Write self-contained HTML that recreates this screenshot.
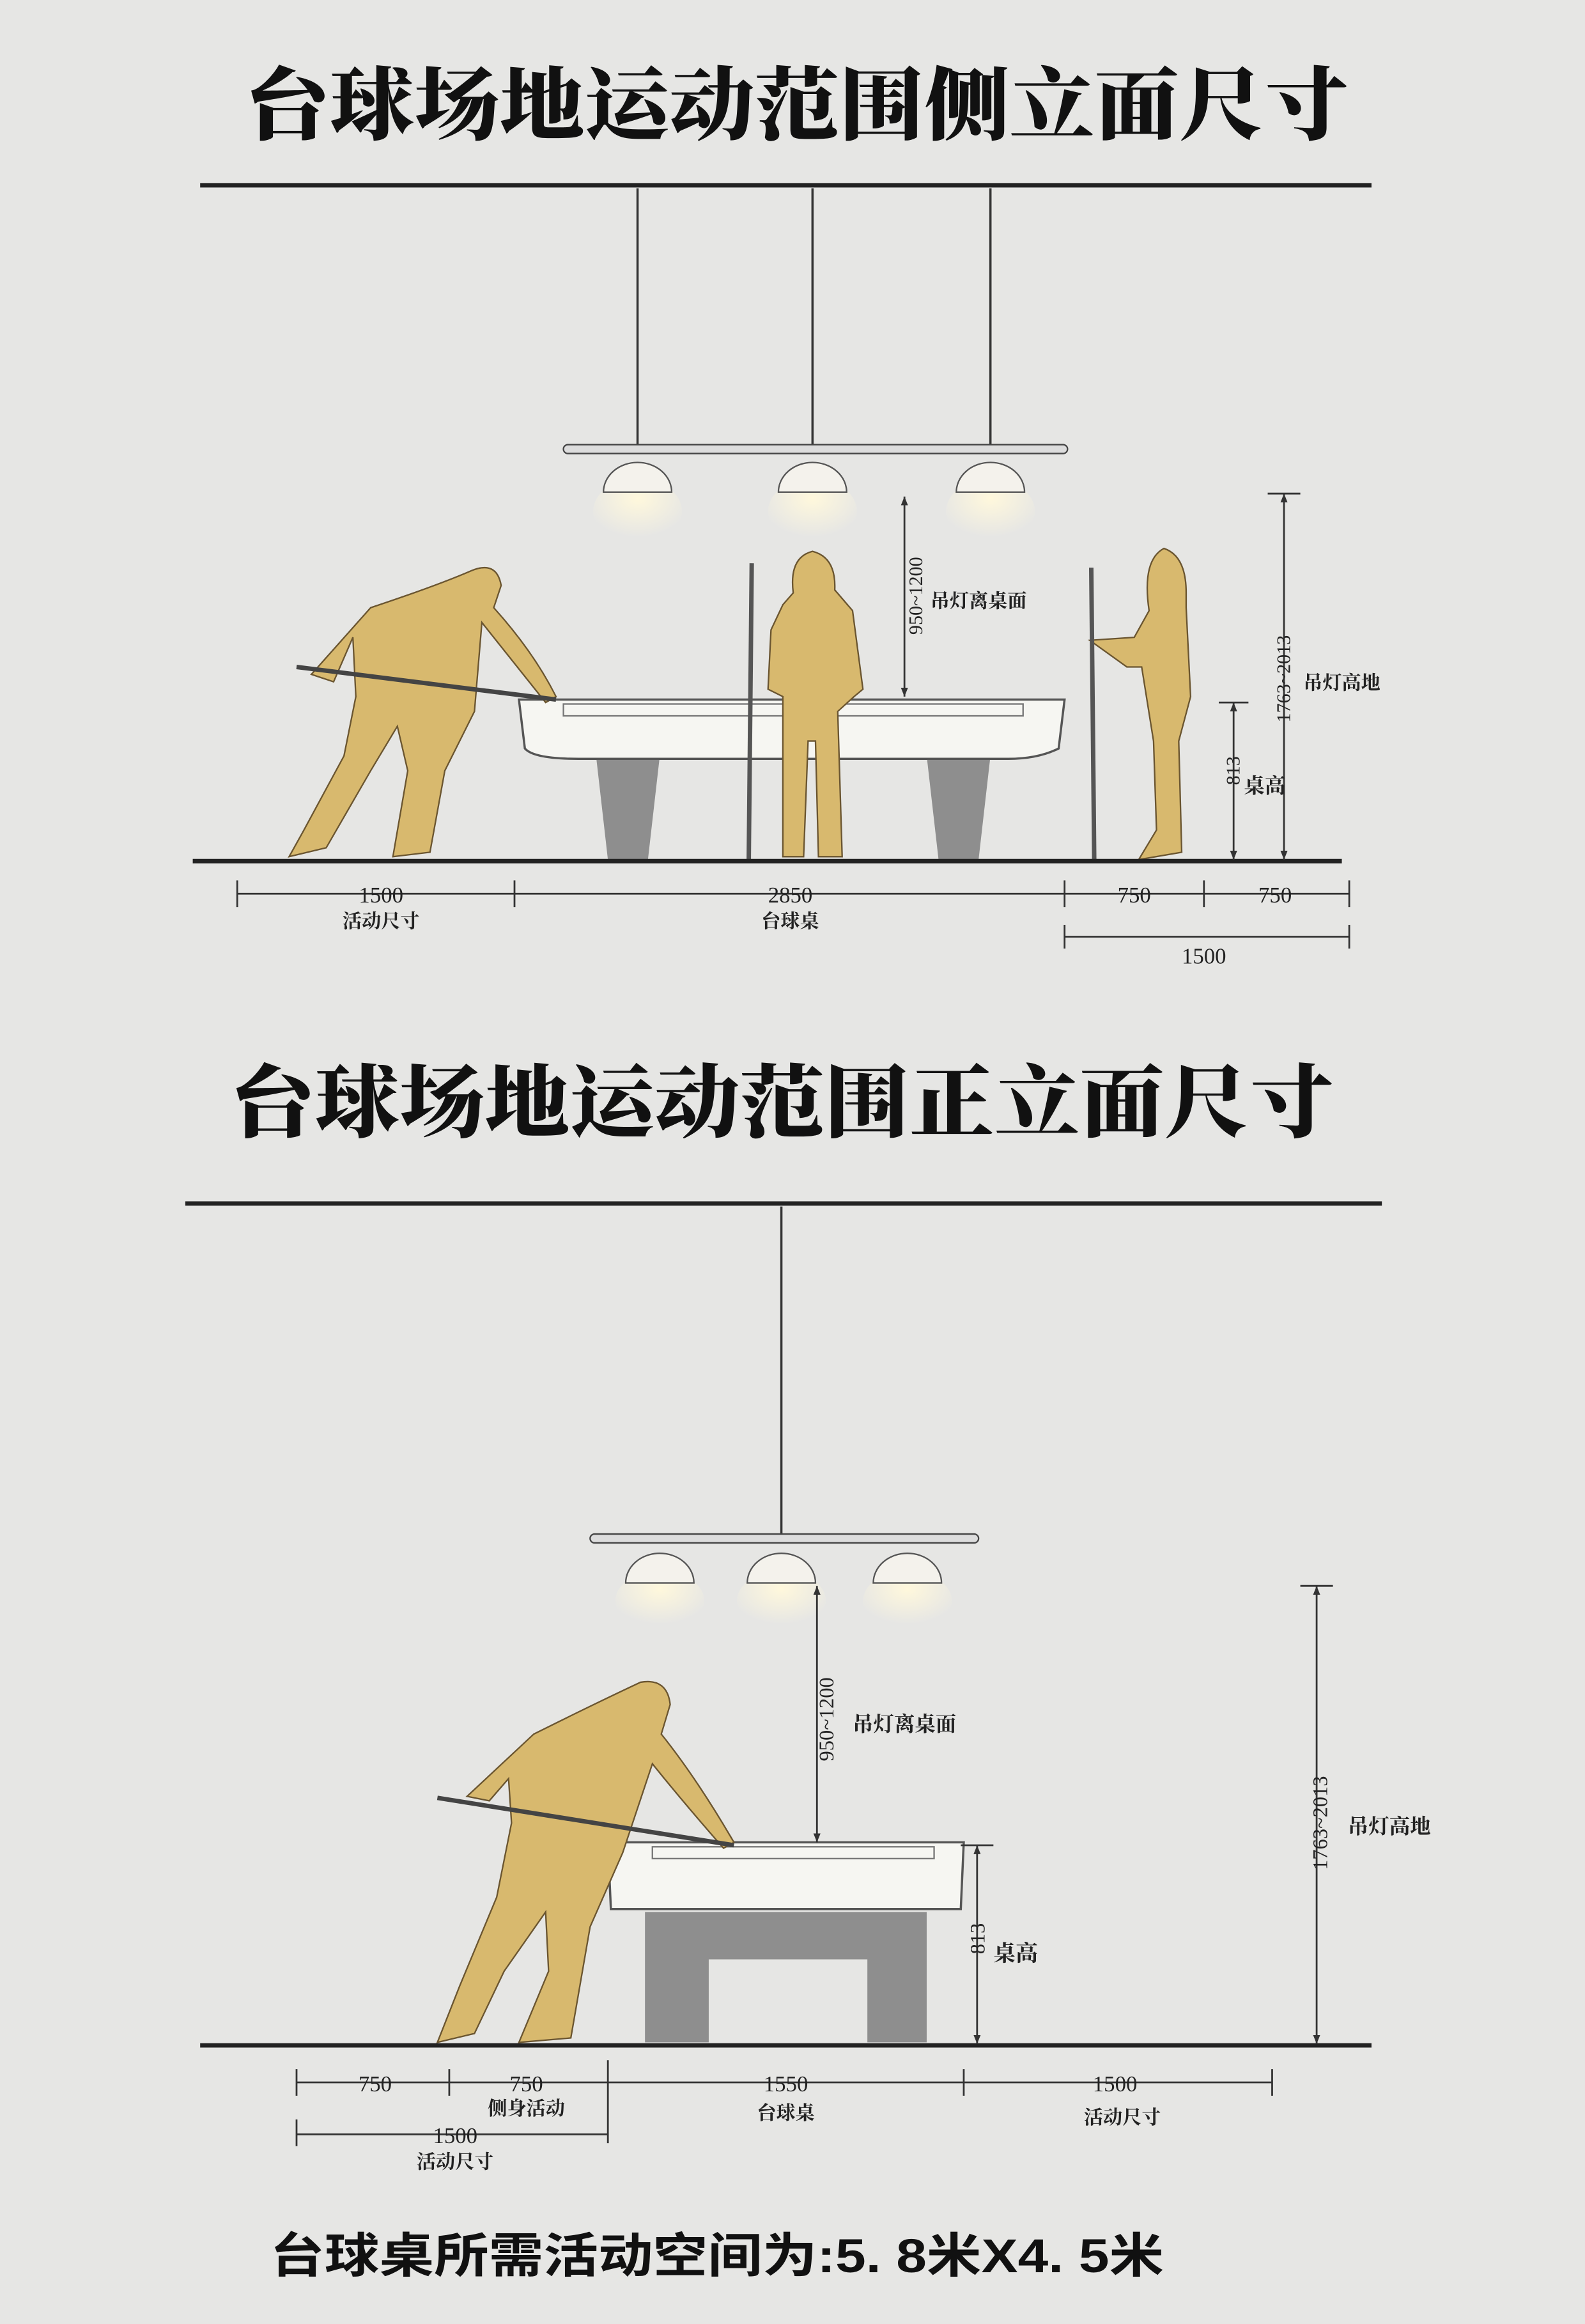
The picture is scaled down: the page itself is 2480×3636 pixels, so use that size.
<!DOCTYPE html>
<html><head><meta charset="utf-8"><style>
html,body{margin:0;padding:0;background:#e6e6e4}
svg{display:block}
.t{font-family:"Liberation Serif","Noto Serif CJK SC","Noto Sans CJK SC",serif;fill:#222}
.h{font-family:"Liberation Serif","Noto Serif CJK SC",serif;font-weight:900;fill:#111}
.b{font-family:"Liberation Sans","Noto Sans CJK SC",sans-serif;font-weight:bold;fill:#111}
</style></head><body>
<svg width="2480" height="3636" viewBox="0 0 1069 1568" preserveAspectRatio="none" xmlns="http://www.w3.org/2000/svg">
<defs>
<radialGradient id="g" cx="50%" cy="30%" r="60%"><stop offset="0" stop-color="#fff8dc" stop-opacity="1"/><stop offset="1" stop-color="#fff8dc" stop-opacity="0"/></radialGradient>
<marker id="a" viewBox="0 0 10 10" refX="10" refY="5" markerWidth="5" markerHeight="5" orient="auto-start-reverse"><path d="M0,1 L10,5 L0,9z" fill="#333"/></marker>
</defs>
<rect width="1069" height="1568" fill="#e6e6e4"/>
<!-- TOP -->
<text x="165" y="90" class="h" font-size="54" textLength="745" lengthAdjust="spacingAndGlyphs">台球场地运动范围侧立面尺寸</text>
<line x1="135" y1="125" x2="925" y2="125" stroke="#222" stroke-width="3"/>
<g stroke="#333" stroke-width="1.5">
<line x1="430" y1="127" x2="430" y2="303"/><line x1="548" y1="127" x2="548" y2="303"/><line x1="668" y1="127" x2="668" y2="303"/>
</g>
<rect x="380" y="300" width="340" height="6" rx="3" fill="#ddd" stroke="#444"/>
<g>
<ellipse cx="430" cy="345" rx="30" ry="22" fill="url(#g)"/><ellipse cx="548" cy="345" rx="30" ry="22" fill="url(#g)"/><ellipse cx="668" cy="345" rx="30" ry="22" fill="url(#g)"/>
<path d="M407,332 A23,20 0 0 1 453,332 Z" fill="#f4f2ec" stroke="#555"/>
<path d="M525,332 A23,20 0 0 1 571,332 Z" fill="#f4f2ec" stroke="#555"/>
<path d="M645,332 A23,20 0 0 1 691,332 Z" fill="#f4f2ec" stroke="#555"/>
</g>
<polygon points="402,510 445,510 437,580 410,580" fill="#8e8e8e"/>
<polygon points="625,510 668,510 660,580 633,580" fill="#8e8e8e"/>
<path d="M350,472 L718,472 L714,505 Q700,512 680,512 L390,512 Q360,512 354,505 Z" fill="#f6f6f2" stroke="#555" stroke-width="1.5"/>
<rect x="380" y="475" width="310" height="8" fill="none" stroke="#777"/>
<g fill="#d8b96e" stroke="#6a5530" stroke-width="1">
<path d="M318,385 Q335,378 338,395 L333,410 Q360,440 375,470 L368,474 Q345,445 325,420 L320,480 L300,520 L290,575 L265,578 L275,520 L268,490 L250,520 L220,572 L195,578 L205,560 L232,510 L240,470 L238,430 L225,460 L210,455 L250,410 Q295,395 318,385Z"/>
<path d="M548,372 Q564,376 563,398 L575,412 L582,465 L576,470 L565,480 L568,578 L552,578 L550,500 L545,500 L542,578 L528,578 L528,470 L518,465 L520,425 L528,408 L535,400 Q532,376 548,372Z"/>
<path d="M785,370 Q800,375 800,400 L800,410 L803,470 L795,500 L797,575 L768,580 L780,560 L778,500 L770,450 L760,450 L735,432 L765,430 L775,412 Q770,378 785,370Z"/>
</g>
<line x1="200" y1="450" x2="375" y2="472" stroke="#444" stroke-width="3"/>
<line x1="507" y1="380" x2="505" y2="580" stroke="#555" stroke-width="3"/>
<line x1="736" y1="383" x2="738" y2="580" stroke="#555" stroke-width="3"/>
<line x1="130" y1="581" x2="905" y2="581" stroke="#222" stroke-width="3"/>
<g stroke="#333" stroke-width="1.2" fill="none">
<line x1="160" y1="603" x2="910" y2="603"/>
<line x1="160" y1="594" x2="160" y2="612"/><line x1="347" y1="594" x2="347" y2="612"/><line x1="718" y1="594" x2="718" y2="612"/><line x1="812" y1="594" x2="812" y2="612"/><line x1="910" y1="594" x2="910" y2="612"/>
<line x1="718" y1="632" x2="910" y2="632"/><line x1="718" y1="624" x2="718" y2="640"/><line x1="910" y1="624" x2="910" y2="640"/>
<line x1="610" y1="335" x2="610" y2="470" marker-start="url(#a)" marker-end="url(#a)"/>
<line x1="832" y1="474" x2="832" y2="580" marker-start="url(#a)" marker-end="url(#a)"/>
<line x1="866" y1="333" x2="866" y2="580" marker-start="url(#a)" marker-end="url(#a)"/>
<line x1="855" y1="333" x2="877" y2="333"/><line x1="822" y1="474" x2="842" y2="474"/>
</g>
<g class="t" font-size="15" text-anchor="middle">
<text x="257" y="609">1500</text><text x="257" y="626" font-size="13" font-weight="bold">活动尺寸</text>
<text x="533" y="609">2850</text><text x="533" y="626" font-size="13" font-weight="bold">台球桌</text>
<text x="765" y="609">750</text><text x="860" y="609">750</text><text x="812" y="650">1500</text>
<text x="660" y="410" font-size="13" font-weight="bold">吊灯离桌面</text>
<text x="853" y="535" font-size="14" font-weight="bold">桌高</text>
<text x="905" y="465" font-size="13" font-weight="bold">吊灯高地</text>
<text transform="translate(622,402) rotate(-90)" font-size="13">950~1200</text>
<text transform="translate(836,520) rotate(-90)" font-size="13">813</text>
<text transform="translate(870,458) rotate(-90)" font-size="13">1763~2013</text>
</g>
<!-- BOTTOM -->
<text x="155" y="763" class="h" font-size="54" textLength="745" lengthAdjust="spacingAndGlyphs">台球场地运动范围正立面尺寸</text>
<line x1="125" y1="812" x2="932" y2="812" stroke="#222" stroke-width="3"/>
<line x1="527" y1="814" x2="527" y2="1038" stroke="#333" stroke-width="1.5"/>
<rect x="398" y="1035" width="262" height="6" rx="3" fill="#ddd" stroke="#444"/>
<ellipse cx="445" cy="1080" rx="30" ry="20" fill="url(#g)"/><ellipse cx="527" cy="1080" rx="30" ry="20" fill="url(#g)"/><ellipse cx="612" cy="1080" rx="30" ry="20" fill="url(#g)"/>
<path d="M422,1068 A23,20 0 0 1 468,1068 Z" fill="#f4f2ec" stroke="#555"/>
<path d="M504,1068 A23,20 0 0 1 550,1068 Z" fill="#f4f2ec" stroke="#555"/>
<path d="M589,1068 A23,20 0 0 1 635,1068 Z" fill="#f4f2ec" stroke="#555"/>
<path d="M435,1290 L625,1290 L625,1378 L585,1378 L585,1322 L478,1322 L478,1378 L435,1378 Z" fill="#8e8e8e"/>
<path d="M410,1243 L650,1243 L648,1288 L412,1288 Z" fill="#f6f6f2" stroke="#555" stroke-width="1.5"/>
<rect x="440" y="1246" width="190" height="8" fill="none" stroke="#777"/>
<path d="M432,1135 Q450,1132 452,1150 L446,1170 Q470,1200 495,1243 L488,1247 Q460,1215 440,1190 L420,1250 L398,1300 L385,1375 L350,1378 L370,1330 L368,1290 L340,1330 L320,1372 L295,1378 L310,1340 L335,1280 L345,1230 L343,1200 L330,1215 L315,1212 L360,1170 Q400,1150 432,1135Z" fill="#d8b96e" stroke="#6a5530"/>
<line x1="295" y1="1213" x2="495" y2="1245" stroke="#444" stroke-width="3"/>
<line x1="135" y1="1380" x2="925" y2="1380" stroke="#222" stroke-width="3"/>
<g stroke="#333" stroke-width="1.2" fill="none">
<line x1="200" y1="1405" x2="858" y2="1405"/>
<line x1="200" y1="1396" x2="200" y2="1414"/><line x1="303" y1="1396" x2="303" y2="1414"/><line x1="410" y1="1390" x2="410" y2="1446"/><line x1="650" y1="1396" x2="650" y2="1414"/><line x1="858" y1="1396" x2="858" y2="1414"/>
<line x1="200" y1="1440" x2="410" y2="1440"/><line x1="200" y1="1430" x2="200" y2="1448"/>
<line x1="551" y1="1070" x2="551" y2="1243" marker-start="url(#a)" marker-end="url(#a)"/>
<line x1="659" y1="1245" x2="659" y2="1379" marker-start="url(#a)" marker-end="url(#a)"/>
<line x1="888" y1="1070" x2="888" y2="1379" marker-start="url(#a)" marker-end="url(#a)"/>
<line x1="877" y1="1070" x2="899" y2="1070"/><line x1="648" y1="1245" x2="670" y2="1245"/>
</g>
<g class="t" font-size="15" text-anchor="middle">
<text x="253" y="1411">750</text><text x="355" y="1411">750</text>
<text x="355" y="1427" font-size="13" font-weight="bold">侧身活动</text>
<text x="530" y="1411">1550</text><text x="530" y="1430" font-size="13" font-weight="bold">台球桌</text>
<text x="752" y="1411">1500</text><text x="757" y="1433" font-size="13" font-weight="bold">活动尺寸</text>
<text x="307" y="1446">1500</text><text x="307" y="1463" font-size="13" font-weight="bold">活动尺寸</text>
<text x="610" y="1168" font-size="14" font-weight="bold">吊灯离桌面</text>
<text x="685" y="1323" font-size="15" font-weight="bold">桌高</text>
<text x="937" y="1237" font-size="14" font-weight="bold">吊灯高地</text>
<text transform="translate(562,1160) rotate(-90)" font-size="14">950~1200</text>
<text transform="translate(664,1308) rotate(-90)" font-size="14">813</text>
<text transform="translate(895,1230) rotate(-90)" font-size="14">1763~2013</text>
</g>
<text x="182" y="1533" class="b" font-size="32" textLength="603" lengthAdjust="spacingAndGlyphs">台球桌所需活动空间为:5. 8米X4. 5米</text>
</svg>
</body></html>
